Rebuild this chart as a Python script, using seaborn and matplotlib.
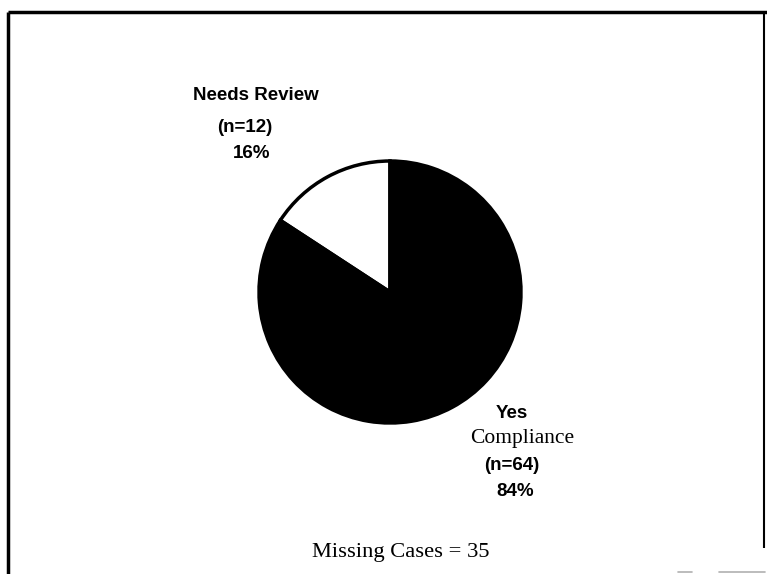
import matplotlib
matplotlib.use("Agg")
import matplotlib.pyplot as plt
import seaborn as sns

# Compliance outcome counts
categories = ["Needs Review", "Yes Compliance"]
counts = [12, 64]
missing_cases = 35

sns.set_theme(style="white")
plt.rcParams["font.family"] = ["Liberation Sans", "DejaVu Sans"]

W, H = 767, 574
fig = plt.figure(figsize=(W / 100, H / 100), dpi=100)
ax = fig.add_axes([0, 0, 1, 1])
ax.set_xlim(0, W)
ax.set_ylim(0, H)
ax.set_aspect("equal")
ax.axis("off")


def py(y):
    """Convert a top-down pixel row into the upward data coordinate."""
    return H - y


total = sum(counts)
pcts = [round(c / total * 100) for c in counts]

wedges, _ = ax.pie(
    counts,
    colors=["white", "black"],
    startangle=90,
    counterclock=True,
    center=(390, py(292)),
    radius=131,
    wedgeprops=dict(edgecolor="black", linewidth=2.5),
    frame=True,
)
ax.set_xlim(0, W)
ax.set_ylim(0, H)
ax.axis("off")

sans = dict(family=["Liberation Sans", "DejaVu Sans"], fontweight="bold", fontsize=13.5,
            color="black", va="center")
serif = dict(family=["Liberation Serif", "DejaVu Serif"], fontsize=15.5,
             color="black", va="center")

# Needs Review label block
ax.text(193, py(96), categories[0], ha="left", **sans)
ax.text(217, py(127), f"(n={counts[0]})", ha="left", **sans)
ax.text(233, py(153), f"{pcts[0]}%", ha="left", **sans)

# Yes Compliance label block
first, second = categories[1].split(" ", 1)
ax.text(512, py(413), first, ha="center", **sans)
ax.text(522, py(438), second, ha="center", **serif)
ax.text(512, py(465), f"(n={counts[1]})", ha="center", **sans)
ax.text(515, py(492), f"{pcts[1]}%", ha="center", **sans)

serif_big = dict(serif, fontsize=16.2)
ax.text(401, py(553), f"Missing Cases = {missing_cases}", ha="center", **serif_big)

# Border of the chart panel
ax.plot([8, W], [py(12), py(12)], color="black", lw=2.5, solid_capstyle="butt")
ax.plot([8, 8], [py(12), 0], color="black", lw=2.5, solid_capstyle="butt")
ax.plot([764, 764], [py(12), py(548)], color="black", lw=1.5, solid_capstyle="butt")
ax.plot([678, 692], [py(572), py(572)], color="#b0b0b0", lw=1.2)
ax.plot([719, 765], [py(572), py(572)], color="#b0b0b0", lw=1.2)

fig.savefig("out.png", dpi=100, facecolor="white")
